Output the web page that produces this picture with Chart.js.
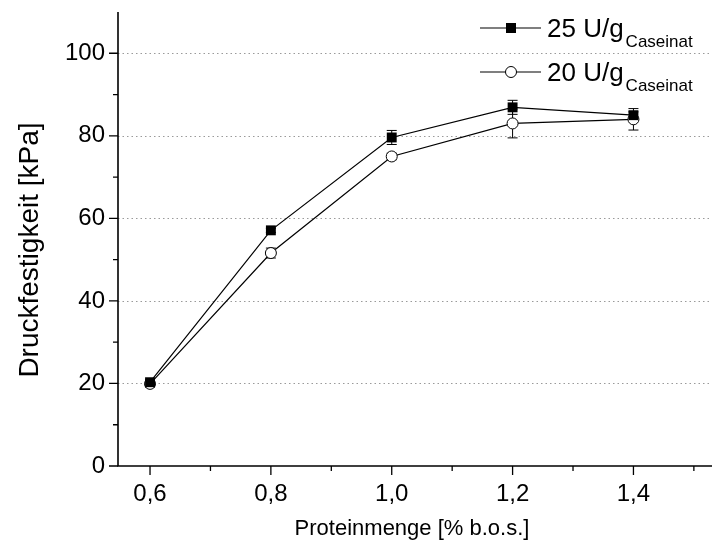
<!DOCTYPE html>
<html>
<head>
<meta charset="utf-8">
<script src="https://cdn.jsdelivr.net/npm/chart.js@4.4.1/dist/chart.umd.min.js"></script>
<style>
    html, body { margin: 0; padding: 0; background: #fff; }
    #wrap { width: 725px; height: 555px; position: relative; }
</style>
</head>
<body>
<div id="wrap"><canvas id="chart"></canvas></div>
<script>
// Werte
const proteinmenge = [0.6, 0.8, 1.0, 1.2, 1.4];
const druck25 = [20.3, 57.1, 79.6, 86.9, 85.0];
const fehler25 = [0.6, 0.5, 1.7, 1.7, 0.8];
const druck20 = [19.9, 51.6, 75.0, 83.0, 84.0];
const fehler20 = [0.8, 1.2, 0.8, 3.5, 2.6];
const xTicks = [0.6, 0.8, 1.0, 1.2, 1.4];
const xMinorTicks = [0.7, 0.9, 1.1, 1.3, 1.5];
const yTicks = [0, 20, 40, 60, 80, 100];
const yMinorTicks = [10, 30, 50, 70, 90];
const serienNamen = ['25 U/g', '20 U/g'];
const serienIndex = 'Caseinat';

const FONT = '"Liberation Sans", Arial, sans-serif';

function punkte(werte) {
    return proteinmenge.map((x, i) => ({ x: x, y: werte[i] }));
}

// Achsen, Striche, Gitter, Fehlerbalken, Legende, Titel
const zeichnen = {
    id: 'zeichnen',
    beforeDatasetsDraw(chart) {
        const { ctx, chartArea: a, scales: { x, y } } = chart;
        ctx.save();
        // gepunktetes Gitter
        ctx.strokeStyle = '#9a9a9a';
        ctx.lineWidth = 1;
        ctx.setLineDash([1.5, 3]);
        yTicks.forEach(v => {
            if (v === 0) return;
            const py = Math.round(y.getPixelForValue(v)) + 0.5;
            ctx.beginPath();
            ctx.moveTo(a.left, py);
            ctx.lineTo(a.right, py);
            ctx.stroke();
        });
        ctx.setLineDash([]);

        // Fehlerbalken
        ctx.strokeStyle = '#000';
        ctx.lineWidth = 1;
        [[druck25, fehler25], [druck20, fehler20]].forEach(([werte, fehler]) => {
            proteinmenge.forEach((xv, i) => {
                const px = x.getPixelForValue(xv);
                const y1 = y.getPixelForValue(werte[i] + fehler[i]);
                const y2 = y.getPixelForValue(werte[i] - fehler[i]);
                ctx.beginPath();
                ctx.moveTo(px, y1); ctx.lineTo(px, y2);
                ctx.moveTo(px - 5, y1); ctx.lineTo(px + 5, y1);
                ctx.moveTo(px - 5, y2); ctx.lineTo(px + 5, y2);
                ctx.stroke();
            });
        });
        ctx.restore();
    },
    afterDraw(chart) {
        const { ctx, chartArea: a, scales: { x, y } } = chart;
        ctx.save();
        ctx.strokeStyle = '#000';
        ctx.lineWidth = 1.6;
        // Achsenlinien
        ctx.beginPath();
        ctx.moveTo(a.left, a.top);
        ctx.lineTo(a.left, a.bottom);
        ctx.lineTo(a.right, a.bottom);
        ctx.stroke();

        ctx.lineWidth = 1.3;
        ctx.beginPath();
        yTicks.forEach(v => {
            const py = y.getPixelForValue(v);
            ctx.moveTo(a.left, py); ctx.lineTo(a.left - 9, py);
        });
        yMinorTicks.forEach(v => {
            const py = y.getPixelForValue(v);
            ctx.moveTo(a.left, py); ctx.lineTo(a.left - 5, py);
        });
        xTicks.forEach(v => {
            const px = x.getPixelForValue(v);
            ctx.moveTo(px, a.bottom); ctx.lineTo(px, a.bottom + 9);
        });
        xMinorTicks.forEach(v => {
            const px = x.getPixelForValue(v);
            ctx.moveTo(px, a.bottom); ctx.lineTo(px, a.bottom + 5);
        });
        ctx.stroke();

        // Legende
        chart.data.datasets.forEach((ds, i) => {
            const ly = 28 + i * 44;
            ctx.strokeStyle = '#000';
            ctx.lineWidth = 1.2;
            ctx.beginPath();
            ctx.moveTo(480, ly); ctx.lineTo(541, ly);
            ctx.stroke();
            if (ds.pointStyle === 'rect') {
                ctx.fillStyle = '#000';
                ctx.fillRect(511 - 5, ly - 5, 10, 10);
            } else {
                ctx.fillStyle = '#fff';
                ctx.lineWidth = 1;
                ctx.beginPath();
                ctx.arc(511, ly, 5.5, 0, Math.PI * 2);
                ctx.fill();
                ctx.stroke();
            }
            ctx.fillStyle = '#000';
            ctx.textAlign = 'left';
            ctx.textBaseline = 'alphabetic';
            ctx.font = '26px ' + FONT;
            ctx.fillText(ds.label, 547, ly + 9);
            const w = ctx.measureText(ds.label).width;
            ctx.font = '17px ' + FONT;
            ctx.fillText(serienIndex, 547 + w + 2, ly + 19);
        });

        // Achsentitel
        ctx.fillStyle = '#000';
        ctx.font = '22px ' + FONT;
        ctx.textAlign = 'center';
        ctx.textBaseline = 'alphabetic';
        ctx.fillText('Proteinmenge [% b.o.s.]', 412, 535);
        ctx.font = '28px ' + FONT;
        ctx.translate(38, 250);
        ctx.rotate(-Math.PI / 2);
        ctx.fillText('Druckfestigkeit [kPa]', 0, 0);
        ctx.restore();
    }
};

new Chart(document.getElementById('chart'), {
    type: 'scatter',
    data: {
        datasets: [{
            label: serienNamen[0],
            data: punkte(druck25),
            showLine: true,
            borderColor: '#000',
            borderWidth: 1.2,
            pointStyle: 'rect',
            pointRadius: 7,
            pointBackgroundColor: '#000',
            pointBorderColor: '#000',
            pointBorderWidth: 0
        }, {
            label: serienNamen[1],
            data: punkte(druck20),
            showLine: true,
            borderColor: '#000',
            borderWidth: 1.2,
            pointStyle: 'circle',
            pointRadius: 5.5,
            pointBackgroundColor: '#fff',
            pointBorderColor: '#000',
            pointBorderWidth: 1
        }]
    },
    options: {
        responsive: true,
        maintainAspectRatio: false,
        animation: false,
        layout: { padding: { top: 12, right: 13, left: 0, bottom: 0 } },
        plugins: { legend: { display: false }, tooltip: { enabled: false } },
        scales: {
            x: {
                type: 'linear',
                min: 0.547,
                max: 1.53,
                afterBuildTicks: s => { s.ticks = xTicks.map(v => ({ value: v })); },
                afterFit: s => {
                    s.height = 89;
                    s.paddingLeft = 0;
                    s.paddingRight = 0;
                },
                grid: { display: false, drawTicks: false },
                border: { display: false },
                ticks: {
                    color: '#000',
                    font: { family: FONT, size: 24 },
                    padding: 14,
                    maxRotation: 0,
                    callback: v => v.toFixed(1).replace('.', ',')
                }
            },
            y: {
                min: 0,
                max: 110,
                afterBuildTicks: s => { s.ticks = yTicks.map(v => ({ value: v })); },
                afterFit: s => {
                    s.width = 118;
                    s.paddingTop = 0;
                    s.paddingBottom = 0;
                },
                grid: { display: false, drawTicks: false },
                border: { display: false },
                ticks: {
                    color: '#000',
                    font: { family: FONT, size: 24 },
                    padding: 13,
                    callback: v => String(v)
                }
            }
        }
    },
    plugins: [zeichnen]
});
</script>
</body>
</html>
